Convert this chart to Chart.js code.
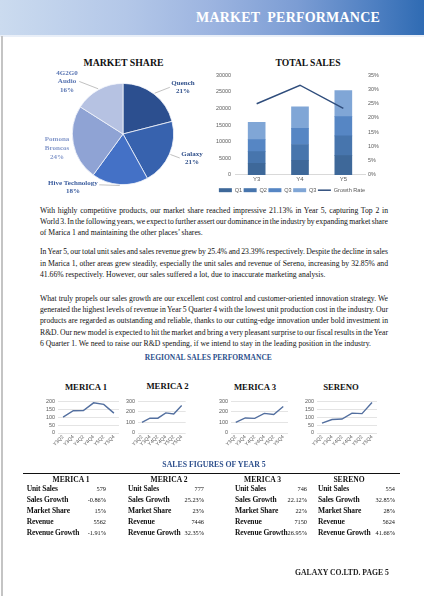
<!DOCTYPE html>
<html><head><meta charset="utf-8">
<script src="https://cdn.jsdelivr.net/npm/chart.js@4.4.1/dist/chart.umd.min.js"></script>
<style>
html,body{margin:0;padding:0;background:#fff;}
body{width:424px;height:596px;position:relative;overflow:hidden;font-family:"Liberation Serif","Times New Roman",serif;color:#111;}
.abs{position:absolute;}
#header{left:0;top:0;width:424px;height:35px;background:linear-gradient(to right,#cbdbef 0%,#b3c7e8 30%,#9cb4e0 50%,#7c9dd4 70%,#4f80c2 88%,#2f6bb3 100%);}
#headline{left:0;top:35px;width:424px;height:2px;background:#e9eff8;}
#frame{left:1px;top:36px;width:2px;height:560px;background:#c4c4c4;}
#title{left:0;top:9px;width:380px;text-align:right;color:#fff;font-weight:bold;font-size:14px;line-height:18px;white-space:pre;letter-spacing:0.2px;}
.h2{font-weight:bold;color:#111;white-space:nowrap;text-align:center;transform:translate(-50%,-50%);}
.blue{color:#2d4f8c;}
.para{left:40px;width:348px;font-size:7.7px;}
.line{height:11.3px;line-height:11.3px;white-space:pre;}
.box{position:absolute;}
.tbl{font-size:7.5px;font-weight:bold;white-space:nowrap;letter-spacing:-0.12px;}
.val{font-size:6.3px;white-space:nowrap;text-align:right;}
</style>
</head>
<body>
<div id="header" class="abs"></div>
<div id="headline" class="abs"></div>
<div id="frame" class="abs"></div>
<div id="title" class="abs">MARKET  PERFORMANCE</div>

<div class="abs h2" style="left:123.5px;top:62px;font-size:9.8px;">MARKET SHARE</div>
<div class="abs h2" style="left:308px;top:62px;font-size:9.6px;">TOTAL SALES</div>

<div class="box" style="left:20px;top:70px;width:200px;height:128px;"><canvas id="pie"></canvas></div>
<div class="box" style="left:194px;top:68px;width:196px;height:135px;"><canvas id="bar"></canvas></div>

<div id="paras" class="abs para" style="top:204.5px;"></div>

<div class="abs h2 blue" style="left:208.3px;top:356.7px;font-size:7.5px;">REGIONAL SALES PERFORMANCE</div>

<div class="abs h2" style="left:86px;top:386.5px;font-size:8.7px;">MERICA 1</div>
<div class="abs h2" style="left:167.5px;top:385.5px;font-size:8.7px;">MERICA 2</div>
<div class="abs h2" style="left:255px;top:386.5px;font-size:8.7px;">MERICA 3</div>
<div class="abs h2" style="left:341px;top:386.5px;font-size:8.7px;">SERENO</div>

<div class="box" style="left:38px;top:395px;width:82px;height:60px;"><canvas id="m1"></canvas></div>
<div class="box" style="left:118px;top:395px;width:69px;height:60px;"><canvas id="m2"></canvas></div>
<div class="box" style="left:211px;top:395px;width:78px;height:60px;"><canvas id="m3"></canvas></div>
<div class="box" style="left:297px;top:395px;width:81px;height:60px;"><canvas id="m4"></canvas></div>

<div class="abs h2 blue" style="left:214px;top:464.3px;font-size:7.8px;">SALES FIGURES OF YEAR 5</div>
<div class="abs" style="left:23px;top:472.5px;width:377px;height:1.4px;background:#111;"></div>
<div id="table"></div>

<div class="abs" style="left:295px;top:567px;font-size:7.7px;font-weight:bold;color:#222;white-space:nowrap;line-height:12px;">GALAXY CO.LTD. PAGE 5</div>

<script>
// ---------- DATA ----------
const shareLabels = ['Quench','Galaxy','Hive Technology','Pomona Broncos','4G2G0 Audio'];
const shareValues = [21,21,18,24,16];

const salesYears = ['Y3','Y4','Y5'];
const salesQ1 = [3500,4400,5800];
const salesQ2 = [3500,4750,5950];
const salesQ3 = [3600,4850,5800];
const salesQ4 = [5200,6500,7800];
const growthRate = [0.25,0.315,0.2339];
const salesTicksLeft = [0,5000,10000,15000,20000,25000,30000];
const salesTicksRight = [0,0.05,0.10,0.15,0.20,0.25,0.30,0.35];

const quarterLabels = ['Y3Q2','Y3Q4','Y4Q2','Y4Q4','Y5Q2','Y5Q4'];
const merica1 = [100,140,141,190,180,125];
const merica2 = [100,140,140,190,180,260];
const merica3 = [100,142,138,185,175,250];
const sereno  = [62,85,88,125,122,192];
const ticks200 = [0,50,100,150,200];
const ticks300 = [0,100,200,300];

const regions = ['MERICA 1','MERICA 2','MERICA 3','SERENO'];
const metricNames = ['Unit Sales','Sales Growth','Market Share','Revenue','Revenue Growth'];
const unitSales = ['579','777','746','554'];
const salesGrowth = ['-0.86%','25.23%','22.12%','32.85%'];
const marketShare = ['15%','23%','22%','28%'];
const revenue = ['5562','7446','7150','5624'];
const revenueGrowth = ['-1.91%','32.35%','26.95%','41.66%'];

const paragraphs = [
 ["With highly competitive products, our market share reached impressive 21.13% in Year 5, capturing Top 2 in",
  "World 3. In the following years, we expect to further assert our dominance in the industry by expanding market share",
  "of Marica 1 and maintaining the other places\u2019 shares."],
 ["In Year 5, our total unit sales and sales revenue grew by 25.4% and 23.39% respectively. Despite the decline in sales",
  "in Marica 1, other areas grew steadily, especially the unit sales and revenue of Sereno, increasing by 32.85% and",
  "41.66% respectively. However, our sales suffered a lot, due to inaccurate marketing analysis."],
 ["What truly propels our sales growth are our excellent cost control and customer-oriented innovation strategy. We",
  "generated the highest levels of revenue in Year 5 Quarter 4 with the lowest unit production cost in the industry. Our",
  "products are regarded as outstanding and reliable, thanks to our cutting-edge innovation under bold investment in",
  "R&D. Our new model is expected to hit the market and bring a very pleasant surprise to our fiscal results in the Year",
  "6 Quarter 1. We need to raise our R&D spending, if we intend to stay in the leading position in the industry."]
];

// ---------- PARAGRAPHS ----------
(function(){
  const host = document.getElementById('paras');
  const W = 348;
  const gaps = [8.0, 12.6];
  paragraphs.forEach((p,pi)=>{
    p.forEach((t,li)=>{
      const d = document.createElement('div');
      d.className='line';
      const s = document.createElement('span');
      s.textContent = t;
      d.appendChild(s);
      host.appendChild(d);
      if (li < p.length-1) {
        const w = s.getBoundingClientRect().width;
        const n = (t.match(/ /g)||[]).length;
        if (n>0) s.style.wordSpacing = ((W - w)/n) + 'px';
      }
    });
    if (pi < paragraphs.length-1) {
      const g = document.createElement('div'); g.style.height = gaps[pi]+'px'; host.appendChild(g);
    }
  });
})();

// ---------- TABLE ----------
(function(){
  const host = document.getElementById('table');
  const labelX = [26.7,128,235,318];
  const valRight = [106,204,307,395];
  const headX = [71,169,262.5,349];
  const rowY = [489,500,511,522,533];
  const cols = [unitSales,salesGrowth,marketShare,revenue,revenueGrowth];
  regions.forEach((r,ci)=>{
    const h = document.createElement('div');
    h.className='abs h2'; h.style.left=headX[ci]+'px'; h.style.top='478.5px'; h.style.fontSize='7.6px';
    h.textContent=r; host.appendChild(h);
    metricNames.forEach((m,ri)=>{
      const l = document.createElement('div');
      l.className='abs tbl'; l.style.left=labelX[ci]+'px'; l.style.top=(rowY[ri]-6)+'px'; l.style.lineHeight='12px';
      l.textContent=m; host.appendChild(l);
      const v = document.createElement('div');
      v.className='abs val'; v.style.left=(valRight[ci]-40)+'px'; v.style.width='40px'; v.style.top=(rowY[ri]-6)+'px'; v.style.lineHeight='12px';
      v.textContent=cols[ri][ci]; host.appendChild(v);
    });
  });
})();

// ---------- PIE ----------
const pieColors = ['#2c4f8f','#3762ae','#4471c6','#8fa3d4','#b6c2e2'];
const pieLabelColors = ['#2f4f8a','#2f4f8a','#3a5c9e','#8599cb','#5874b2'];
const pieLabelShift = [14.3,-4.2,39.7,-1.4,-18];
const pieLabelDist = [76,73,73,67.5,76.8];
const pieWrap = [false,false,false,true,true];
const pieLeader = [true,true,true,false,true];

const pieLabelPlugin = {
  id:'pieLabels',
  afterDatasetsDraw(chart){
    const ctx = chart.ctx;
    const meta = chart.getDatasetMeta(0);
    ctx.save();
    ctx.font = 'bold 7px "Liberation Serif"';
    ctx.textAlign='center'; ctx.textBaseline='middle';
    meta.data.forEach((arc,i)=>{
      const p = arc.getProps(['x','y','startAngle','endAngle','outerRadius'],true);
      const mid = (p.startAngle+p.endAngle)/2;
      const a = mid + pieLabelShift[i]*Math.PI/180;
      const lx = p.x + Math.cos(a)*pieLabelDist[i];
      const ly = p.y + Math.sin(a)*pieLabelDist[i];
      const lines = pieWrap[i] ? shareLabels[i].split(' ') : [shareLabels[i]];
      lines.push(shareValues[i]+'%');
      const lh = 8.6;
      const y0 = ly - (lines.length-1)*lh/2;
      if (pieLeader[i]) {
        let mw = 0; lines.forEach(t=>{mw=Math.max(mw,ctx.measureText(t).width);});
        const sx = p.x + Math.cos(mid)*(p.outerRadius+1);
        const sy = p.y + Math.sin(mid)*(p.outerRadius+1);
        const ex = lx + (sx>lx?1:-1)*(mw/2+1.5);
        const ey = (i===2)? y0+2 : ly;
        ctx.strokeStyle='#a6a6a6'; ctx.lineWidth=0.7;
        ctx.beginPath(); ctx.moveTo(sx,sy); ctx.lineTo(ex,ey); ctx.stroke();
      }
      ctx.fillStyle = pieLabelColors[i];
      lines.forEach((t,k)=>ctx.fillText(t, lx, y0+k*lh));
    });
    ctx.restore();
  }
};

new Chart(document.getElementById('pie'), {
  type:'pie',
  data:{labels:shareLabels, datasets:[{data:shareValues, backgroundColor:pieColors, borderColor:'#f2f5fb', borderWidth:0.8}]},
  options:{responsive:true, maintainAspectRatio:false, animation:false,
    layout:{padding:{left:52,right:46,top:13,bottom:13}},
    plugins:{legend:{display:false}, tooltip:{enabled:false}}},
  plugins:[pieLabelPlugin]
});

// ---------- BAR + LINE ----------
const tickFont = {family:'"Liberation Sans", Arial, sans-serif', size:5.4};
new Chart(document.getElementById('bar'), {
  type:'bar',
  data:{labels:salesYears, datasets:[
    {label:'Q1', data:salesQ1, backgroundColor:'#3e6899', stack:'s', order:1, barThickness:17},
    {label:'Q2', data:salesQ2, backgroundColor:'#4775ad', stack:'s', order:1, barThickness:17},
    {label:'Q3', data:salesQ3, backgroundColor:'#5686c4', stack:'s', order:1, barThickness:17},
    {label:'Q3', data:salesQ4, backgroundColor:'#80a6d6', stack:'s', order:1, barThickness:17},
    {type:'line', label:'Growth Rate', data:growthRate, yAxisID:'y1', borderColor:'#2f4d7c', backgroundColor:'#2f4d7c', borderWidth:1.5, pointRadius:0, order:0, tension:0}
  ]},
  options:{responsive:true, maintainAspectRatio:false, animation:false,
    layout:{padding:{top:7,left:0,right:0,bottom:0}},
    plugins:{tooltip:{enabled:false},
      legend:{position:'bottom', labels:{usePointStyle:true, pointStyleWidth:13, boxHeight:4, padding:1.5,
        font:{family:'"Liberation Sans", Arial, sans-serif', size:5.6}, color:'#595959',
        sort:(a,b)=>a.datasetIndex-b.datasetIndex,
        generateLabels(chart){
          const items = Chart.defaults.plugins.legend.labels.generateLabels(chart);
          items.forEach(it=>{
            const ds = chart.data.datasets[it.datasetIndex];
            if (ds.type==='line'){ it.pointStyle='line'; it.strokeStyle=ds.borderColor; it.lineWidth=1.5; }
            else { it.pointStyle='rect'; it.lineWidth=0; }
          });
          return items;
        }}}},
    scales:{
      x:{stacked:true, grid:{display:false, drawTicks:false}, border:{color:'#d9d9d9', width:1},
         ticks:{font:{family:tickFont.family,size:6}, color:'#595959', padding:1}, afterFit(s){s.height=11;}},
      y:{stacked:true, min:0, max:30000, position:'left', grid:{display:false, drawTicks:false}, border:{display:false},
         afterBuildTicks(s){ s.ticks = salesTicksLeft.map(v=>({value:v})); },
         ticks:{font:tickFont, color:'#595959', padding:4, callback:(v)=>String(v)}, afterFit(s){s.width=41;}},
      y1:{min:0, max:0.35, position:'right', grid:{display:false, drawTicks:false}, border:{display:false},
         afterBuildTicks(s){ s.ticks = salesTicksRight.map(v=>({value:v})); },
         ticks:{font:tickFont, color:'#595959', padding:3, callback:(v)=>Math.round(v*100)+'%'}, afterFit(s){s.width=25;}}
    }
  }
});

// ---------- MINI LINE CHARTS ----------
function mini(id, data, max, tickVals){
  new Chart(document.getElementById(id), {
    type:'line',
    data:{labels:quarterLabels, datasets:[{data:data, borderColor:'#536f9f', borderWidth:1.4, pointRadius:0, tension:0}]},
    options:{responsive:true, maintainAspectRatio:false, animation:false,
      layout:{padding:{top:4,right:1,left:0,bottom:0}},
      plugins:{legend:{display:false}, tooltip:{enabled:false}},
      scales:{
        x:{offset:true, grid:{display:false, drawTicks:false}, border:{display:false},
           ticks:{autoSkip:false, maxRotation:45, minRotation:45, font:{family:tickFont.family,size:5}, color:'#595959', padding:1},
           afterFit(s){s.height=22;}},
        y:{min:0, max:max, grid:{color:'#d9d9d9', lineWidth:0.7, drawTicks:false}, border:{display:false},
           afterBuildTicks(s){ s.ticks = tickVals.map(v=>({value:v})); },
           ticks:{autoSkip:false, font:tickFont, color:'#595959', padding:3},
           afterFit(s){s.width=20;}}
      }
    }
  });
}
mini('m1', merica1, 200, ticks200);
mini('m2', merica2, 300, ticks300);
mini('m3', merica3, 300, ticks300);
mini('m4', sereno, 200, ticks200);
</script>
</body></html>
